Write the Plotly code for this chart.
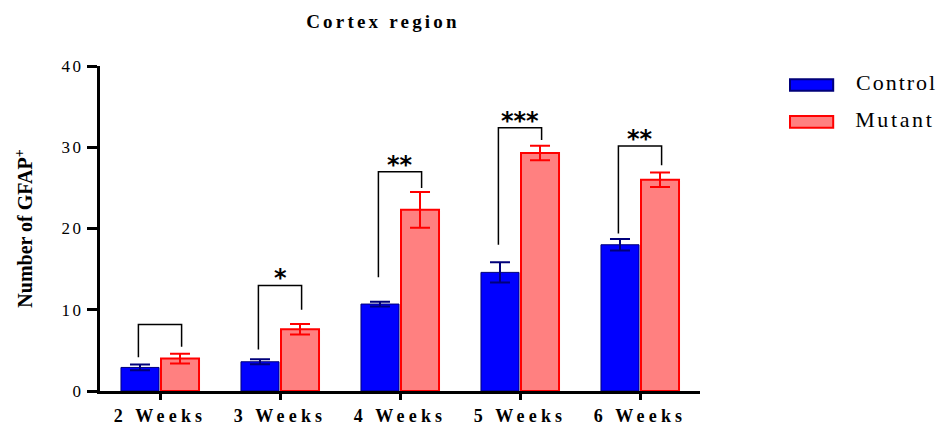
import plotly.graph_objects as go

# Mean GFAP+ counts per age group with SEM
weeks = ["2 Weeks", "3 Weeks", "4 Weeks", "5 Weeks", "6 Weeks"]
control_mean = [2.9, 3.6, 10.7, 14.6, 18.0]
control_sem = [0.35, 0.3, 0.3, 1.25, 0.7]
mutant_mean = [4.0, 7.6, 22.3, 29.3, 26.0]
mutant_sem = [0.6, 0.65, 2.2, 0.9, 0.9]

# Significance brackets: top, left-leg bottom, right-leg bottom, label
bracket_top = [8.2, 13.0, 27.0, 32.4, 30.15]
bracket_left = [4.15, 5.1, 14.0, 18.0, 19.4]
bracket_right = [5.45, 10.0, 25.0, 30.9, 27.8]
bracket_label = ["", "*", "**", "***", "**"]

series_names = ["Control", "Mutant"]
series_fill = ["#0000FF", "#FF8080"]
series_edge = ["#00007A", "#FF0000"]

serif = "Liberation Serif, Times New Roman, serif"

fig = go.Figure()
for name, mean, sem, fill, edge, lw in zip(series_names, [control_mean, mutant_mean],
                                          [control_sem, mutant_sem], series_fill, series_edge, [1, 2]):
    fig.add_trace(go.Bar(
        name=name, x=weeks, y=mean,
        marker=dict(color=fill, line=dict(color=edge, width=lw)),
        error_y=dict(type="data", array=sem, color=edge, thickness=2, width=10),
    ))

# Legend: wide swatches with labels, placed right of the plot
for k, (name, fill, edge) in enumerate(zip(series_names, series_fill, series_edge)):
    yc = 0.9415 - k * 0.1135
    fig.add_shape(type="rect", xref="paper", yref="paper",
                  x0=1.15, x1=1.222, y0=yc - 0.018, y1=yc + 0.018,
                  fillcolor=fill, line=dict(color=edge, width=2))
    fig.add_annotation(x=1.268, y=yc + 0.008, xref="paper", yref="paper", text=name,
                       showarrow=False, xanchor="left", yanchor="middle",
                       font=dict(family=serif, size=22, color="black"))

off = 0.18
for i, (top, lb, rb, lab) in enumerate(zip(bracket_top, bracket_left, bracket_right, bracket_label)):
    fig.add_shape(
        type="path",
        path=f"M {i - off} {lb} L {i - off} {top} L {i + off} {top} L {i + off} {rb}",
        xref="x", yref="y", line=dict(color="black", width=1.5),
    )
    if lab:
        fig.add_annotation(
            x=i, y=top, xref="x", yref="y", text=f"<b>{lab}</b>", showarrow=False,
            yanchor="bottom", yshift=-9,
            font=dict(family="DejaVu Sans, Arial, sans-serif", size=24, color="black"),
        )

fig.update_layout(
    width=939, height=426,
    margin=dict(l=100, r=239, t=66, b=35),
    paper_bgcolor="white", plot_bgcolor="white",
    barmode="group", bargap=0.333, bargroupgap=0.05,
    title=dict(text="<b>Cortex region</b>", x=383 / 939, xanchor="center", y=0.95, yanchor="middle",
               font=dict(family=serif, size=19, color="black")),
    showlegend=False,
)
fig.update_xaxes(
    range=[-0.5, 4.5], showline=True, linecolor="black", linewidth=3,
    ticks="outside", ticklen=6, tickwidth=3, tickcolor="black",
    tickfont=dict(family=serif, size=18, color="black"),
    tickprefix="<b>", ticksuffix="</b>", showgrid=False, zeroline=False, automargin=False,
)
fig.update_yaxes(
    range=[0, 40], tickvals=[0, 10, 20, 30, 40], showline=True, linecolor="black", linewidth=3,
    ticks="outside", ticklen=10, tickwidth=3, tickcolor="black",
    tickfont=dict(family=serif, size=17, color="black"),
    tickprefix="<b>", ticksuffix="</b>", showgrid=False, zeroline=False, automargin=False,
    title=dict(text="<b>Number of GFAP<sup>+</sup></b>", standoff=29,
               font=dict(family=serif, size=20, color="black")),
)

# Widen the letter spacing of the serif labels
spacing_js = """
var gd = document.getElementById('{plot_id}');
function ls(sel, v) { gd.querySelectorAll(sel).forEach(function (e) { e.style.letterSpacing = v; }); }
ls('.xtick text', '4.2px');
ls('.ytick text', '2.5px');
ls('.gtitle', '3.2px');
ls('.annotation[data-index="0"] text', '2px');
ls('.annotation[data-index="1"] text', '2.6px');
"""

fig.write_html("out.html", post_script=spacing_js)
